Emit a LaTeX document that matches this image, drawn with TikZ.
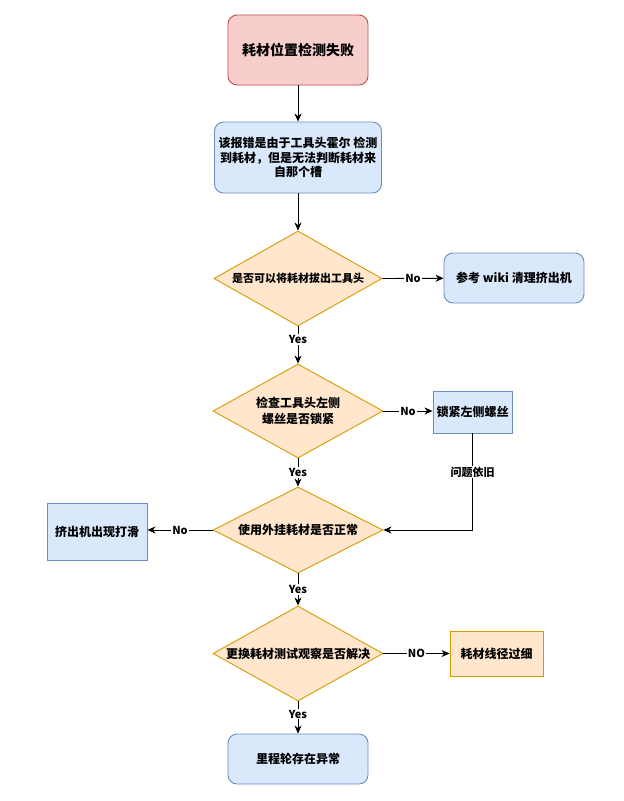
\documentclass[tikz,border=0pt]{standalone}
\usepackage{fontspec}
\setmainfont{Noto Sans CJK SC}
\usetikzlibrary{shapes.geometric,arrows.meta}
\definecolor{redfill}{HTML}{F8CECC}
\definecolor{redline}{HTML}{B85450}
\definecolor{bluefill}{HTML}{DAE8FC}
\definecolor{blueline}{HTML}{6C8EBF}
\definecolor{orfill}{HTML}{FFE6CC}
\definecolor{orline}{HTML}{D79B00}
\begin{document}
\begin{tikzpicture}[x=1pt,y=-1pt,
  every node/.style={font=\bfseries\fontsize{12}{14.5}\selectfont, inner sep=0pt},
  rbox/.style={draw=blueline, fill=bluefill, rounded corners=9pt, line width=0.9pt, align=center},
  sbox/.style={draw=blueline, fill=bluefill, line width=0.9pt, align=center},
  obox/.style={draw=orline, fill=orfill, line width=0.9pt, align=center},
  startbox/.style={draw=redline, fill=redfill, rounded corners=9pt, line width=0.9pt, align=center},
  dec/.style={diamond, draw=orline, fill=orfill, line width=0.9pt},
  conn/.style={draw=black, line width=0.9pt, -{Stealth[length=8pt,width=7pt,inset=2.5pt]}},
  lbl/.style={fill=white, inner sep=1pt, font=\bfseries\fontsize{11}{13}\selectfont}
]
\useasboundingbox (0,0) rectangle (624,801);
\fill[white] (0,0) rectangle (624,801);

\node[startbox, minimum width=140pt, minimum height=70pt, font=\bfseries\fontsize{14}{16}\selectfont] (start) at (298,50) {耗材位置检测失败};
\node[rbox, minimum width=167pt, minimum height=71pt] (info) at (298,157.5) {该报错是由于工具头霍尔 检测\\到耗材，但是无法判断耗材来\\自那个槽};

\node[dec, minimum width=168pt, minimum height=95pt] (d1) at (298,278.5) {};
\node[font=\bfseries\fontsize{11}{13}\selectfont] (t1) at (d1) {是否可以将耗材拔出工具头};
\node[rbox, minimum width=140pt, minimum height=50pt] (wiki) at (514,278) {参考 wiki 清理挤出机};

\node[dec, minimum width=170pt, minimum height=94pt] (d2) at (298,411) {};
\node[align=center, font=\bfseries\fontsize{12}{15.5}\selectfont] (t2) at (d2) {检查工具头左侧\\螺丝是否锁紧};
\node[sbox, minimum width=79pt, minimum height=42pt] (lock) at (472.5,412) {锁紧左侧螺丝};

\node[dec, minimum width=170pt, minimum height=86pt] (d3) at (298,530) {};
\node (t3) at (d3) {使用外挂耗材是否正常};
\node[sbox, minimum width=100pt, minimum height=57pt] (slip) at (97,531.5) {挤出机出现打滑};

\node[dec, minimum width=170pt, minimum height=95pt] (d4) at (298,653.5) {};
\node (t4) at (d4) {更换耗材测试观察是否解决};
\node[obox, minimum width=93pt, minimum height=45pt] (thin) at (496.5,653.5) {耗材线径过细};

\node[rbox, minimum width=140pt, minimum height=50pt] (end) at (298,759) {里程轮存在异常};

\draw[conn] (start) -- (info);
\draw[conn] (info) -- (d1.north);
\draw[conn] (d1.east) -- node[lbl]{No} (wiki);
\draw[conn] (d1.south) -- node[lbl, pos=0.35]{Yes} (d2.north);
\draw[conn] (d2.east) -- node[lbl]{No} (lock.west|-d2.east);
\draw[conn] (lock.south) |- node[lbl, pos=0.2]{问题依旧} (d3.east);
\draw[conn] (d2.south) -- node[lbl]{Yes} (d3.north);
\draw[conn] (d3.west) -- node[lbl]{No} (slip.east|-d3.west);
\draw[conn] (d3.south) -- node[lbl]{Yes} (d4.north);
\draw[conn] (d4.east) -- node[lbl]{NO} (thin);
\draw[conn] (d4.south) -- node[lbl, pos=0.4]{Yes} (end);
\end{tikzpicture}
\end{document}
